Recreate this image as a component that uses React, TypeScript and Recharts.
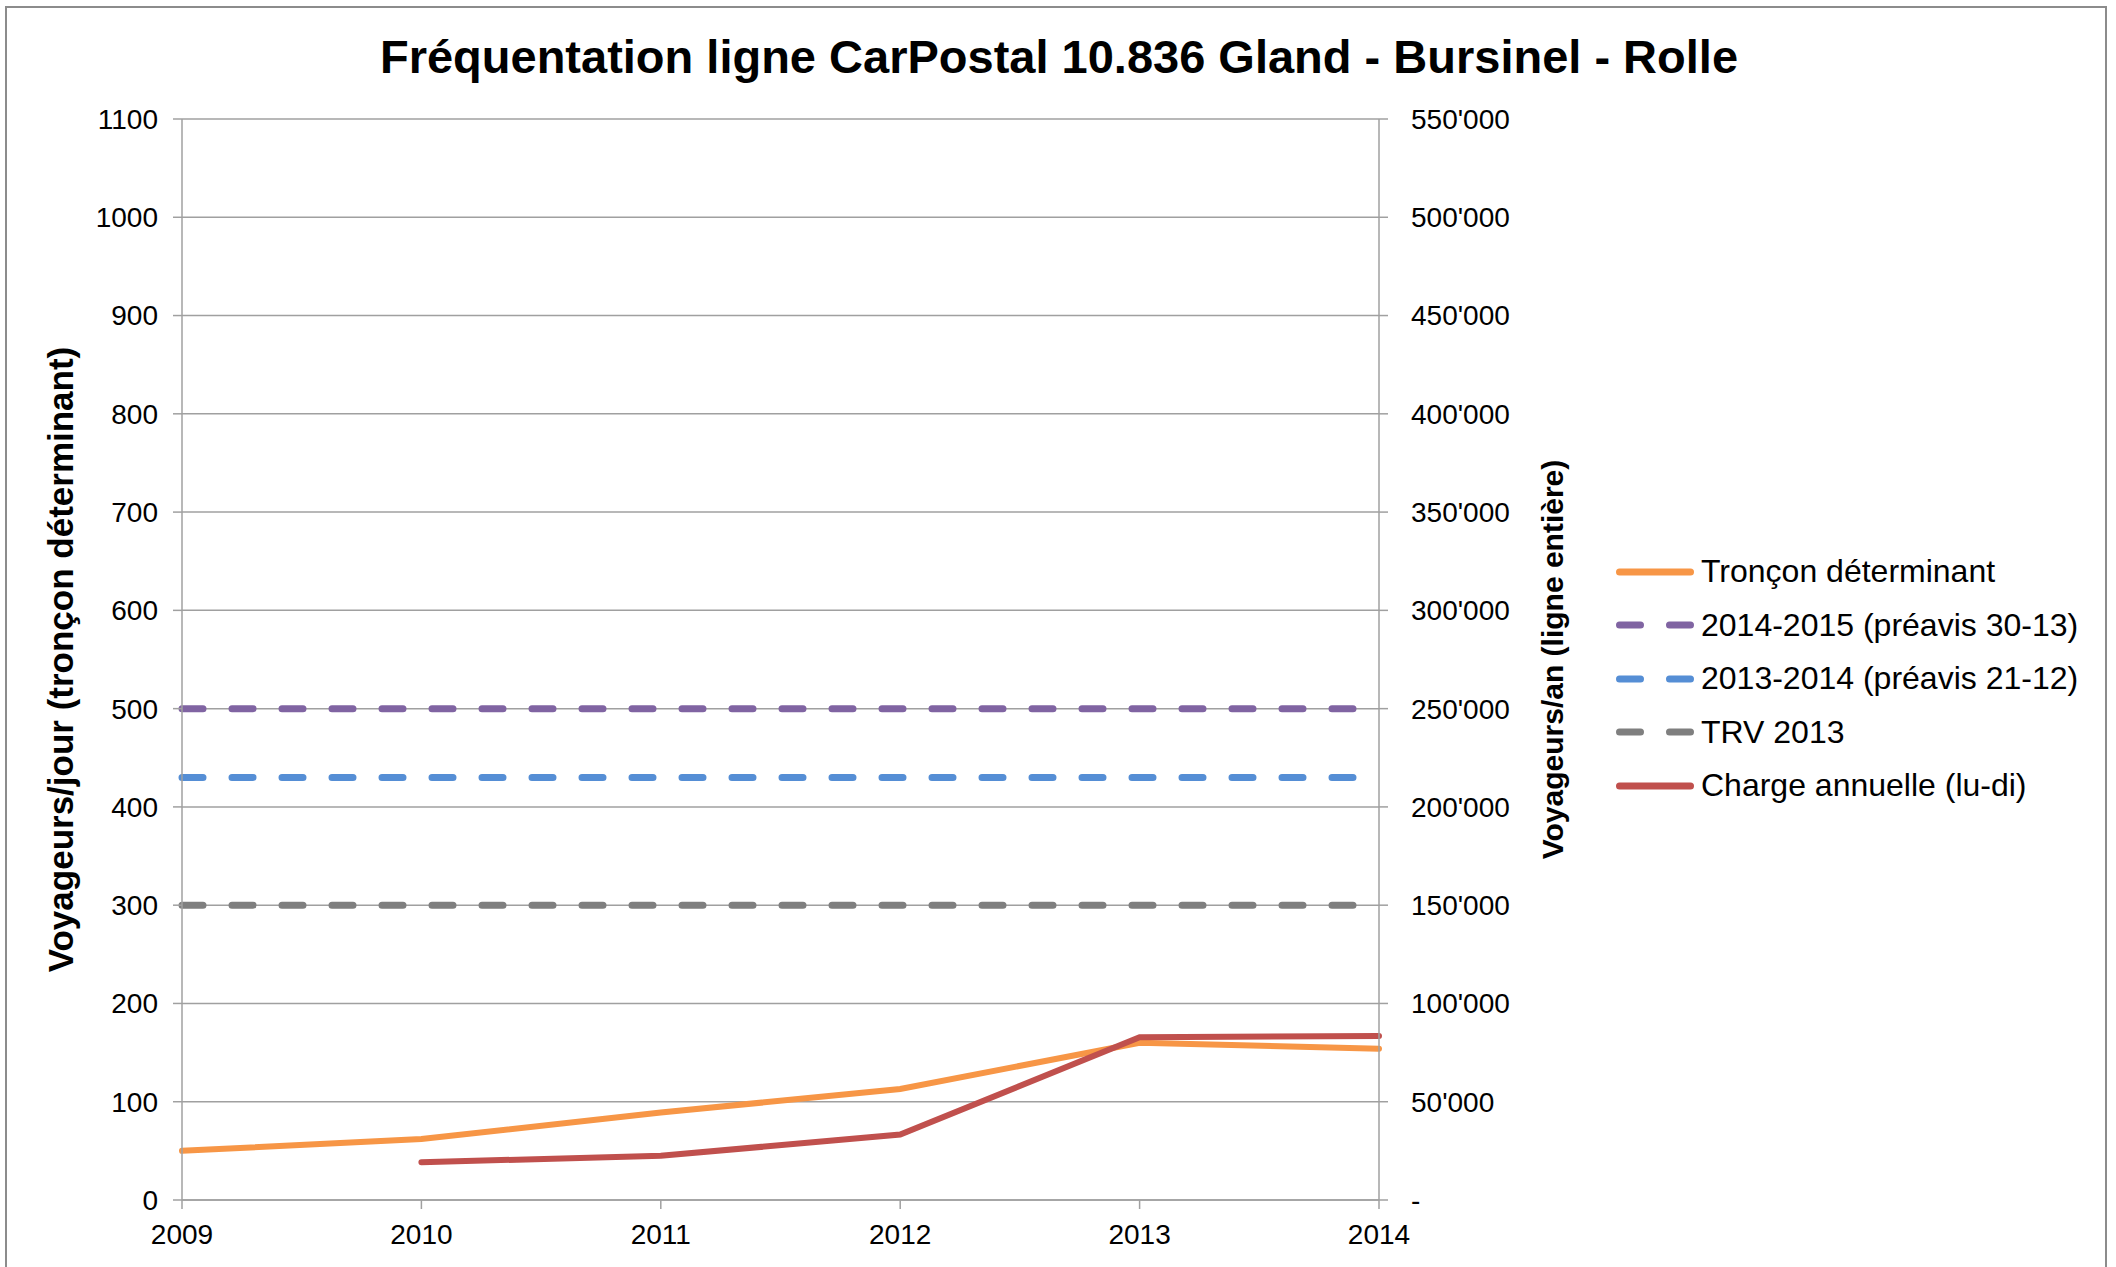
import React from "react";
import {
  LineChart,
  Line,
  XAxis,
  YAxis,
  CartesianGrid,
  Legend,
  Label,
} from "recharts";

// values
const years = [2009, 2010, 2011, 2012, 2013, 2014];
const tronconDeterminant = [50, 62, 89, 113, 160, 154];
const preavis3013 = [500, 500, 500, 500, 500, 500];
const preavis2112 = [430, 430, 430, 430, 430, 430];
const trv2013 = [300, 300, 300, 300, 300, 300];
// right axis (voyageurs/an), no value for 2009
const chargeAnnuelle = [null, 19200, 22500, 33300, 82800, 83500];

const leftTicks = [0, 100, 200, 300, 400, 500, 600, 700, 800, 900, 1000, 1100];
const rightTicks = [
  0, 50000, 100000, 150000, 200000, 250000, 300000, 350000, 400000, 450000,
  500000, 550000,
];

const FONT = '"Liberation Sans", Arial, sans-serif';
const AXIS = "#a0a0a0";

const data = years.map((year, i) => ({
  year,
  troncon: tronconDeterminant[i],
  p3013: preavis3013[i],
  p2112: preavis2112[i],
  trv: trv2013[i],
  charge: chargeAnnuelle[i],
}));

const series = [
  { key: "troncon", name: "Tronçon déterminant", color: "#f79646", dash: undefined, axis: "left" },
  { key: "p3013", name: "2014-2015 (préavis 30-13)", color: "#8064a2", dash: "21 29", axis: "left" },
  { key: "p2112", name: "2013-2014 (préavis 21-12)", color: "#558ed5", dash: "21 29", axis: "left" },
  { key: "trv", name: "TRV 2013", color: "#7f7f7f", dash: "21 29", axis: "left" },
  { key: "charge", name: "Charge annuelle (lu-di)", color: "#c0504d", dash: undefined, axis: "right" },
];

const fmtRight = (v: number) =>
  v === 0 ? "-" : String(v).replace(/\B(?=(\d{3})+(?!\d))/g, "'");

function LegendBox() {
  return (
    <div style={{ fontFamily: FONT }}>
      {series.map((s) => (
        <div
          key={s.key}
          style={{ display: "flex", alignItems: "center", height: 53.5 }}
        >
          <svg width={85} height={12} style={{ flex: "none" }}>
            <line
              x1={3.5}
              x2={74.5}
              y1={6}
              y2={6}
              stroke={s.color}
              strokeWidth={7}
              strokeLinecap="round"
              strokeDasharray={s.dash}
            />
          </svg>
          <span style={{ fontSize: 32, color: "#000", whiteSpace: "nowrap" }}>
            {s.name}
          </span>
        </div>
      ))}
    </div>
  );
}

export default function App() {
  const tick = { fill: "#000", fontSize: 28, fontFamily: FONT };
  return (
    <div
      style={{
        position: "absolute",
        left: 0,
        top: 0,
        width: 2116,
        height: 1267,
        overflow: "hidden",
        background: "#fff",
        fontFamily: FONT,
      }}
    >
      <div
        style={{
          position: "absolute",
          left: 5,
          top: 6,
          width: 2102,
          height: 1300,
          border: "2px solid #8c8c8c",
          boxSizing: "border-box",
        }}
      />
      <div
        style={{
          position: "absolute",
          left: 0,
          width: 2116,
          top: 32,
          textAlign: "center",
        }}
      >
        <span
          style={{
            display: "inline-block",
            fontSize: 47,
            fontWeight: "bold",
            lineHeight: "50px",
            marginLeft: 2,
          }}
        >
          Fréquentation ligne CarPostal 10.836 Gland - Bursinel - Rolle
        </span>
      </div>
      <div style={{ position: "absolute", left: 0, top: 0 }}>
        <LineChart
          width={2116}
          height={1267}
          data={data}
          margin={{ top: 119, right: 0, bottom: 0, left: 0 }}
        >
          <CartesianGrid
            yAxisId="left"
            vertical={false}
            stroke={AXIS}
            strokeWidth={1.5}
          />
          <XAxis
            dataKey="year"
            type="number"
            domain={[2009, 2014]}
            ticks={years}
            allowDecimals={false}
            height={67}
            tick={tick}
            tickSize={9}
            tickMargin={15}
            stroke={AXIS}
            strokeWidth={1.5}
          />
          <YAxis
            yAxisId="left"
            width={182}
            domain={[0, 1100]}
            ticks={leftTicks}
            interval={0}
            tick={tick}
            tickSize={9}
            tickMargin={15}
            stroke={AXIS}
            strokeWidth={1.5}
          >
            <Label
              value="Voyageurs/jour (tronçon déterminant)"
              angle={-90}
              position="center"
              dx={-30}
              style={{
                fontSize: 35,
                fontWeight: "bold",
                fill: "#000",
                fontFamily: FONT,
              }}
            />
          </YAxis>
          <YAxis
            yAxisId="right"
            orientation="right"
            width={737}
            domain={[0, 550000]}
            ticks={rightTicks}
            interval={0}
            tickFormatter={fmtRight}
            tick={tick}
            tickSize={9}
            tickMargin={23}
            stroke={AXIS}
            strokeWidth={1.5}
          >
            <Label
              value="Voyageurs/an (ligne entière)"
              angle={-90}
              position="center"
              dx={-195}
              style={{
                fontSize: 30,
                fontWeight: "bold",
                fill: "#000",
                fontFamily: FONT,
              }}
            />
          </YAxis>
          <Legend
            layout="vertical"
            align="center"
            verticalAlign="middle"
            content={() => <LegendBox />}
            wrapperStyle={{ left: 1616, top: 545, width: 480 }}
          />
          {series.map((s) => (
            <Line
              key={s.key}
              yAxisId={s.axis}
              dataKey={s.key}
              name={s.name}
              type="linear"
              stroke={s.color}
              strokeWidth={s.dash ? 7 : 6}
              strokeDasharray={s.dash}
              strokeLinecap="round"
              dot={false}
              activeDot={false}
              isAnimationActive={false}
            />
          ))}
        </LineChart>
      </div>
    </div>
  );
}
